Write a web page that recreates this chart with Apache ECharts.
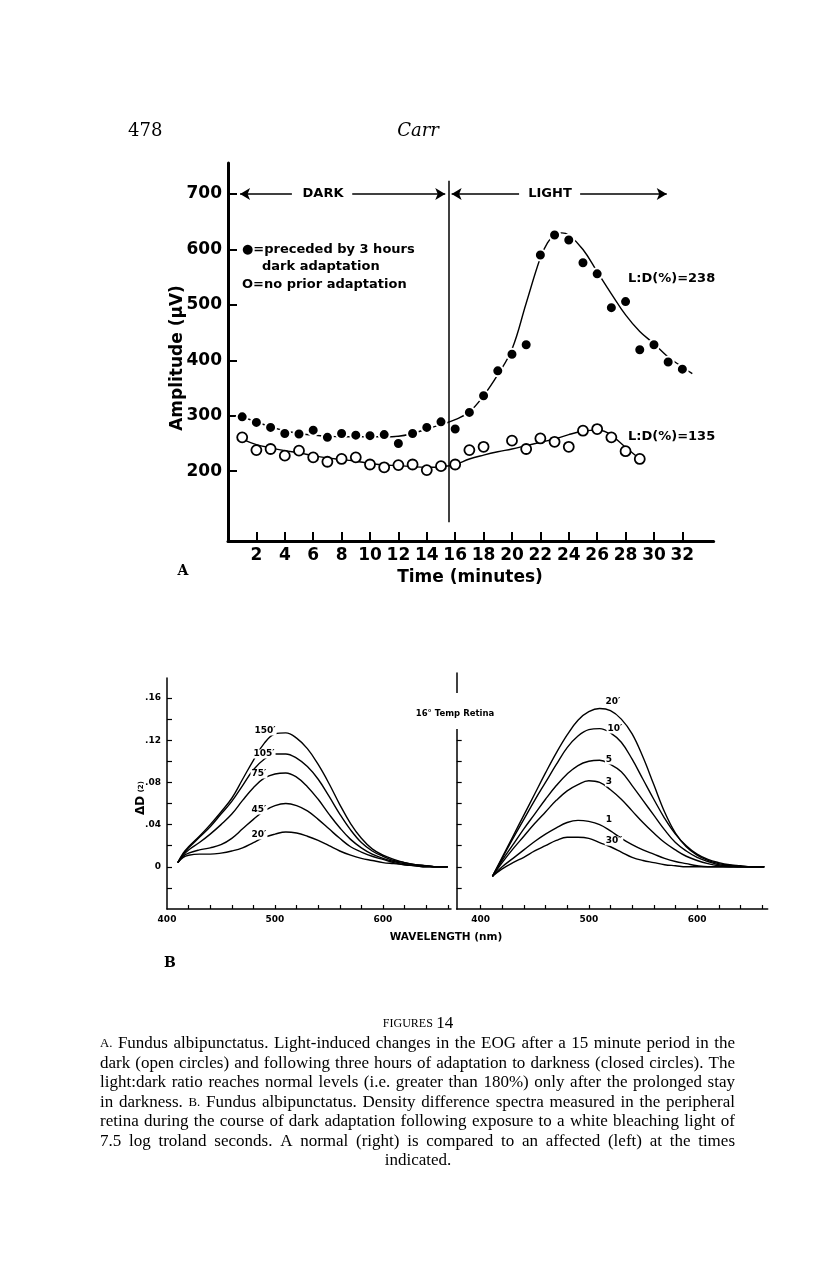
<!DOCTYPE html>
<html><head><meta charset="utf-8">
<script src="https://cdn.jsdelivr.net/npm/echarts@6/dist/echarts.min.js"></script>
<style>html,body{margin:0;padding:0;background:#fff}#c{width:816px;height:1286px}</style>
</head><body><div id="c"></div>
<script>
// ---------- Panel A data (EOG amplitude, µV) ----------
const filledT = [1,2,3,4,5,6,7,8,9,10,11,12,13,14,15,16,17,18,19,20,21,22,23,24,25,26,27,28,29,30,31,32];
const filledV = [298,288,279,268,267,274,261,268,265,264,266,250,268,279,289,276,306,336,381,411,428,590,626,617,576,556,495,506,419,428,397,384];
const openT = [1,2,3,4,5,6,7,8,9,10,11,12,13,14,15,16,17,18,20,21,22,23,24,25,26,27,28,29];
const openV = [261,238,240,228,237,225,217,222,225,212,207,211,212,202,209,212,238,244,255,240,259,253,244,273,276,261,236,222];
const filledFitT = [1,2,3,4,5,6,7,8,9,10,11,12,13,14,15,16,17,18,19,20,21,22,22.5,23,23.5,24,25,26,27,28,29,30,31,32,32.7];
const filledFitV = [298,289,280,273,268,265,263,262,262,262,262,263,268,276,284,293,307,336,374,420,503,585,612,627,630,626,600,560,520,482,452,430,406,388,376];
const openFitT = [1,2,3,4,5,6,7,8,9,10,11,12,13,14,15,16,17,18,19,20,21,22,23,24,25,26,26.5,27,28,29];
const openFitV = [258,248,242,237,233,228,224,221,218,214,211,210,208,207,208,212,222,229,235,240,246,252,258,266,272,274,272,265,243,222];
const timeTicks = [2,4,6,8,10,12,14,16,18,20,22,24,26,28,30,32];
const ampTicks = [200,300,400,500,600,700];

// ---------- Panel B data (density difference) ----------
const leftWl = [410,415,420,430,440,450,460,470,480,490,500,510,520,530,540,550,560,570,580,590,600,610,620,630,640,650,660];
const l150 = [0.004,0.013,0.019,0.029,0.040,0.052,0.065,0.083,0.101,0.117,0.126,0.127,0.122,0.112,0.097,0.079,0.059,0.041,0.027,0.017,0.011,0.007,0.004,0.002,0.001,0,0];
const l105 = [0.004,0.012,0.018,0.028,0.038,0.050,0.062,0.077,0.092,0.102,0.107,0.107,0.103,0.095,0.083,0.067,0.050,0.035,0.023,0.015,0.010,0.006,0.004,0.002,0.001,0,0];
const l75  = [0.004,0.011,0.016,0.023,0.031,0.040,0.050,0.063,0.075,0.084,0.088,0.089,0.085,0.076,0.064,0.050,0.037,0.026,0.018,0.012,0.008,0.005,0.003,0.002,0.001,0,0];
const l45  = [0.004,0.010,0.013,0.016,0.018,0.021,0.027,0.036,0.045,0.053,0.058,0.060,0.058,0.053,0.045,0.036,0.027,0.019,0.014,0.010,0.007,0.004,0.002,0.001,0,0,0];
const l20  = [0.004,0.009,0.011,0.012,0.012,0.013,0.015,0.018,0.023,0.028,0.031,0.033,0.032,0.029,0.025,0.020,0.015,0.011,0.008,0.006,0.004,0.003,0.002,0.001,0,0,0];
const rightWl = [411,420,430,440,450,460,470,480,490,500,510,520,530,540,550,560,570,580,590,600,610,620,630,640,650,662];
const r20 = [-0.009,0.009,0.029,0.049,0.069,0.089,0.108,0.125,0.139,0.147,0.150,0.148,0.140,0.126,0.104,0.078,0.052,0.032,0.019,0.011,0.006,0.003,0.0015,0.0005,0,0];
const r10 = [-0.009,0.008,0.027,0.045,0.063,0.080,0.097,0.113,0.124,0.130,0.131,0.127,0.118,0.102,0.083,0.064,0.046,0.031,0.020,0.012,0.007,0.004,0.002,0.001,0,0];
const r5  = [-0.009,0.006,0.021,0.036,0.050,0.064,0.077,0.088,0.096,0.100,0.101,0.097,0.090,0.077,0.063,0.049,0.035,0.023,0.015,0.009,0.005,0.002,0.001,0,0,0];
const r3  = [-0.009,0.004,0.017,0.029,0.041,0.052,0.063,0.072,0.078,0.0815,0.080,0.073,0.064,0.053,0.042,0.032,0.023,0.016,0.010,0.006,0.003,0.001,0,0,0,0];
const r1  = [-0.009,0.000,0.008,0.016,0.024,0.031,0.037,0.042,0.044,0.043,0.040,0.034,0.027,0.021,0.016,0.012,0.008,0.005,0.003,0.001,0,0,0,0,0,0];
const r30 = [-0.009,-0.002,0.004,0.009,0.015,0.020,0.025,0.028,0.028,0.027,0.023,0.019,0.014,0.009,0.006,0.004,0.002,0.001,0,0,0,0,0,0,0,0];
const wlTicksL = [420,440,460,480,500,520,540,560,580,600,620,640,660];
const wlTicksR = [400,420,440,460,480,500,520,540,560,580,600,620,640,660];
const wlLabels = [400,500,600];
const dTicksL = [-0.02,0,0.02,0.04,0.06,0.08,0.10,0.12,0.14,0.16];
const dTicksR = [-0.02,0,0.02,0.04,0.06,0.08,0.10,0.12];
const dLabels = [0,0.04,0.08,0.12,0.16];

// ---------- text ----------
const captionLines = [
 "A. Fundus albipunctatus. Light-induced changes in the EOG after a 15 minute period in the",
 "dark (open circles) and following three hours of adaptation to darkness (closed circles). The",
 "light:dark ratio reaches normal levels (i.e. greater than 180%) only after the prolonged stay",
 "in darkness. B. Fundus albipunctatus. Density difference spectra measured in the peripheral",
 "retina during the course of dark adaptation following exposure to a white bleaching light of",
 "7.5 log troland seconds. A normal (right) is compared to an affected (left) at the times"
];
const captionLast = "indicated.";

const zip = (a, b) => a.map((v, i) => [v, b[i]]);
const SANS = '"DejaVu Sans", sans-serif';
const SERIF = '"DejaVu Serif", serif';
const CAPF = '"Liberation Serif"';

function curve(x, y, xi, yi) {
  return {type:'line', xAxisIndex:xi, yAxisIndex:yi, data:zip(x, y), smooth:0.4, showSymbol:false,
    lineStyle:{color:'#000', width:1.4}, silent:true, z:2};
}

const arrowLine = (a, b, s1, s2) => [{coord:a, symbol:s1}, {coord:b, symbol:s2}];

const series = [
  Object.assign(curve(filledFitT, filledFitV, 0, 0), {
    markLine: {silent:true, animation:false, symbolSize:[9,10], label:{show:false},
      lineStyle:{color:'#000', width:1.5, type:'solid'},
      data:[
        arrowLine([0.85,700],[4.5,700],'arrow','none'),
        arrowLine([8.75,700],[15.3,700],'none','arrow'),
        arrowLine([15.75,700],[20.5,700],'arrow','none'),
        arrowLine([24.8,700],[30.9,700],'none','arrow'),
        arrowLine([15.56,108],[15.56,724],'none','none')
      ]}
  }),
  curve(openFitT, openFitV, 0, 0),
  {type:'scatter', xAxisIndex:0, yAxisIndex:0, data:zip(openT, openV), symbol:'circle', symbolSize:10,
    itemStyle:{color:'#fff', borderColor:'#000', borderWidth:1.8, opacity:1}, z:4, silent:true},
  {type:'scatter', xAxisIndex:0, yAxisIndex:0, data:zip(filledT, filledV), symbol:'circle', symbolSize:11,
    itemStyle:{color:'#000', borderColor:'#fff', borderWidth:2, opacity:1}, z:4, silent:true},
  curve(leftWl, l150, 1, 1), curve(leftWl, l105, 1, 1), curve(leftWl, l75, 1, 1),
  curve(leftWl, l45, 1, 1), curve(leftWl, l20, 1, 1),
  curve(rightWl, r20, 2, 2), curve(rightWl, r10, 2, 2), curve(rightWl, r5, 2, 2),
  curve(rightWl, r3, 2, 2), curve(rightWl, r1, 2, 2), curve(rightWl, r30, 2, 2)
];

function xAxisB(grid, min, max, ticks) {
  return {type:'value', gridIndex:grid, min, max, splitLine:{show:false},
    axisLine:{show:true, onZero:false, lineStyle:{color:'#000', width:1.5}},
    axisTick:{show:true, inside:true, length:4, lineStyle:{color:'#000', width:1.2}, customValues:ticks},
    axisLabel:{show:true, customValues:wlLabels, color:'#000', fontFamily:SANS, fontWeight:'bold', fontSize:9, margin:6}};
}
function yAxisB(grid, min, max, ticks, showLabel) {
  return {type:'value', gridIndex:grid, min, max, splitLine:{show:false},
    axisLine:{show:true, onZero:false, lineStyle:{color:'#000', width:1.5}},
    axisTick:{show:true, inside:true, length:5, lineStyle:{color:'#000', width:1.2}, customValues:ticks},
    axisLabel:{show:showLabel, customValues:dLabels, color:'#000', fontFamily:SANS, fontWeight:'bold', fontSize:9, margin:6,
      formatter: v => Math.abs(v) < 1e-9 ? '0' : '.' + v.toFixed(2).split('.')[1]}};
}

const option = {
  animation:false,
  backgroundColor:'#fff',
  grid:[
    {left:228, top:163, width:485.6, height:378},
    {left:167, top:678, width:284, height:231},
    {left:456.7, top:673, width:311, height:236}
  ],
  xAxis:[
    {type:'value', gridIndex:0, min:0, max:34.2, splitLine:{show:false},
      axisLine:{show:true, onZero:false, lineStyle:{color:'#000', width:3}},
      axisTick:{show:true, inside:true, length:9, lineStyle:{color:'#000', width:2}, customValues:timeTicks},
      axisLabel:{customValues:timeTicks, color:'#000', fontFamily:SANS, fontWeight:'bold', fontSize:17, margin:6}},
    xAxisB(1, 400, 663, wlTicksL),
    xAxisB(2, 378, 665.2, wlTicksR)
  ],
  yAxis:[
    {type:'value', gridIndex:0, min:74, max:756, splitLine:{show:false},
      axisLine:{show:true, onZero:false, lineStyle:{color:'#000', width:3}},
      axisTick:{show:true, inside:true, length:9, lineStyle:{color:'#000', width:2}, customValues:ampTicks},
      axisLabel:{customValues:ampTicks, color:'#000', fontFamily:SANS, fontWeight:'bold', fontSize:17, margin:6}},
    yAxisB(1, -0.04, 0.179, dTicksL, true),
    yAxisB(2, -0.04, 0.1837, dTicksR, false)
  ],
  series,
  graphic: []
};

// ---------- graphic texts ----------
const G = option.graphic;
function txt(x, y, text, font, align, extra) {
  const el = {type:'text', x, y, z:100, silent:true,
    style:Object.assign({text, font, fill:'#000', align:align||'left', verticalAlign:'middle'}, extra||{})};
  G.push(el); return el;
}
// page header
txt(128, 131, '478', '18px ' + SERIF, 'left');
txt(418, 131, 'Carr', 'italic 18px ' + SERIF, 'center');
// panel A annotations
txt(323, 194, 'DARK', 'bold 13px ' + SANS, 'center', {backgroundColor:'#fff', padding:[0,3]});
txt(550, 194, 'LIGHT', 'bold 13px ' + SANS, 'center', {backgroundColor:'#fff', padding:[0,3]});
txt(242, 250, '●=preceded by 3 hours', 'bold 13px ' + SANS, 'left');
txt(262, 267, 'dark adaptation', 'bold 13px ' + SANS, 'left');
txt(242, 285, 'O=no prior adaptation', 'bold 13px ' + SANS, 'left');
txt(628, 279, 'L:D(%)=238', 'bold 13px ' + SANS, 'left');
txt(628, 437, 'L:D(%)=135', 'bold 13px ' + SANS, 'left');
G.push({type:'text', x:178, y:358, rotation:Math.PI/2, z:100, silent:true,
  style:{text:'Amplitude (μV)', font:'bold 17px ' + SANS, fill:'#000', align:'center', verticalAlign:'middle'}});
txt(470, 578, 'Time (minutes)', 'bold 17px ' + SANS, 'center');
txt(183, 571, 'A', 'bold 14px ' + SERIF, 'center');
// panel B annotations
G.push({type:'rect', z:99, silent:true, shape:{x:451, y:693, width:11, height:36}, style:{fill:'#fff'}});
txt(455, 714, '16° Temp Retina', 'bold 8.5px ' + SANS, 'center');
G.push({type:'text', x:141, y:798, rotation:Math.PI/2, z:100, silent:true,
  style:{text:'{a|ΔD} {b|(2)}', fill:'#000', align:'center', verticalAlign:'middle',
    rich:{a:{font:'bold 12px ' + SANS, fill:'#000'}, b:{font:'bold 7px ' + SANS, fill:'#000'}}}});
txt(446, 937, 'WAVELENGTH (nm)', 'bold 10.5px ' + SANS, 'center');
txt(170, 963, 'B', 'bold 14px ' + SERIF, 'center');
const bl = {backgroundColor:'#fff', padding:[0,1]};
txt(265, 731, '150′', 'bold 9px ' + SANS, 'center', bl);
txt(264, 754, '105′', 'bold 9px ' + SANS, 'center', bl);
txt(259, 774, '75′', 'bold 9px ' + SANS, 'center', bl);
txt(259, 810, '45′', 'bold 9px ' + SANS, 'center', bl);
txt(259, 835, '20′', 'bold 9px ' + SANS, 'center', bl);
txt(613, 702, '20′', 'bold 9px ' + SANS, 'center');
txt(615, 729, '10′', 'bold 9px ' + SANS, 'center', bl);
txt(609, 760, '5', 'bold 9px ' + SANS, 'center', bl);
txt(609, 782, '3', 'bold 9px ' + SANS, 'center', bl);
txt(609, 820, '1', 'bold 9px ' + SANS, 'center', bl);
txt(614, 841, '30″', 'bold 9px ' + SANS, 'center', bl);

// caption (justified)
G.push({type:'text', x:418, y:1024, z:100, silent:true,
  style:{text:'{s|FIGURES} {n|14}', align:'center', verticalAlign:'middle', fill:'#000',
    rich:{s:{font:'12px ' + CAPF, fill:'#000'}, n:{font:'17px ' + CAPF, fill:'#000'}}}});
const ctx = document.createElement('canvas').getContext('2d');
const capL = 100, capR = 735, capW = capR - capL;
let fs = 17.5;
function natural(line, size) {
  ctx.font = size + 'px ' + CAPF;
  return ctx.measureText(line).width;
}
while (fs > 10 && Math.max(...captionLines.map(l => natural(l, fs))) > capW - 6) fs -= 0.25;
const lineY = [1044, 1063.5, 1083, 1102.5, 1122, 1141.5];
captionLines.forEach((line, li) => {
  const words = line.split(' ');
  const fonts = words.map(w => (w === 'A.' || w === 'B.') ? (fs * 0.75) + 'px ' + CAPF : fs + 'px ' + CAPF);
  const widths = words.map((w, i) => { ctx.font = fonts[i]; return ctx.measureText(w).width; });
  const total = widths.reduce((a, b) => a + b, 0);
  const gap = (capW - total) / (words.length - 1);
  let x = capL;
  words.forEach((w, i) => { txt(x, lineY[li], w, fonts[i], 'left'); x += widths[i] + gap; });
});
txt(418, 1161, captionLast, fs + 'px ' + CAPF, 'center');

const chart = echarts.init(document.getElementById('c'), null, {renderer:'canvas'});
chart.setOption(option);
</script></body></html>
